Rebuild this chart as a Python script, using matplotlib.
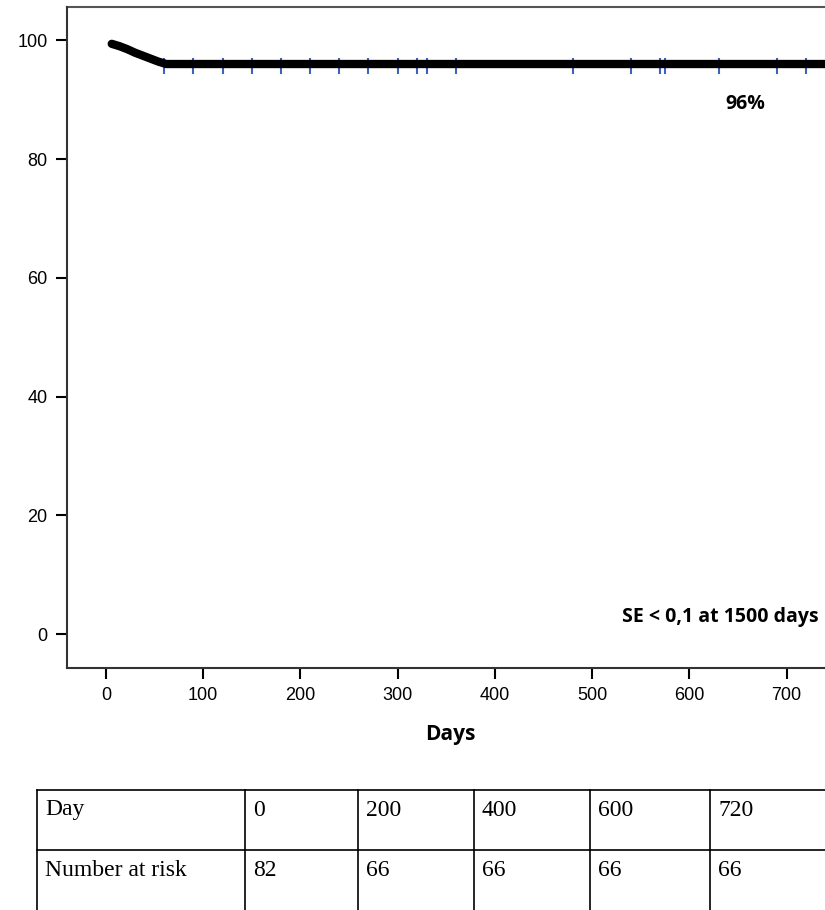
import matplotlib.pyplot as plt

# survival curve (step points) and censor marks
days = [0, 6, 14, 22, 30, 38, 46, 54, 62, 740]
surv = [99.5, 99.4, 99.0, 98.5, 97.9, 97.4, 96.9, 96.4, 96.0, 96.0]
censor_days = [60, 90, 120, 150, 180, 210, 240, 270, 300, 320, 330, 360,
               480, 540, 570, 575, 630, 690, 720]

table_rows = [["Day", "0", "200", "400", "600", "720"],
              ["Number at risk", "82", "66", "66", "66", "66"]]

W, H = 825, 910
fig = plt.figure(figsize=(W / 100, H / 100), dpi=100)
ax = fig.add_axes([67 / W, 1 - 668 / H, 1 - 67 / W + 0.01, (668 - 7) / H])
ax.set_xlim(-40, 748)
ax.set_ylim(-5.7, 105.6)

ax.plot(days[1:], surv[1:], color="black", lw=6, solid_capstyle="round")
ax.plot(censor_days, [95.6] * len(censor_days), ls="none", marker="|",
        ms=11, mew=1.5, color="#3a62c0", zorder=1)

ax.set_xticks(range(0, 701, 100))
ax.set_yticks(range(0, 101, 20))
for s in ["top", "right"]:
    ax.spines[s].set_visible(False)
ax.axhline(105.6, color="#555555", lw=1.5, clip_on=False)
for s in ["left", "bottom"]:
    ax.spines[s].set_linewidth(1.5)
    ax.spines[s].set_color("#333333")
ax.tick_params(length=8, width=1.5, labelsize=13, pad=6)
for lab in ax.get_xticklabels() + ax.get_yticklabels():
    lab.set_family("Liberation Sans")
ax.set_xlabel("Days", fontsize=15, fontweight="bold", family="Open Sans",
              labelpad=14)

ax.text(637, 88.5, "96%", fontsize=14, fontweight="bold", family="Open Sans")
ax.text(733, 2, "SE < 0,1 at 1500 days", fontsize=14, fontweight="bold",
        family="Open Sans", ha="right")

# number at risk table
col_x = [37, 245, 358, 474, 590, 710, 830]
row_y = [790, 850, 910]
for x in col_x:
    fig.add_artist(plt.Line2D([x / W] * 2, [1 - row_y[0] / H, 0],
                              color="black", lw=1.2))
for y in row_y[:2]:
    fig.add_artist(plt.Line2D([col_x[0] / W, 1], [1 - y / H] * 2,
                              color="black", lw=1.2))
for r, row in enumerate(table_rows):
    for c, txt in enumerate(row):
        fig.text((col_x[c] + 8) / W, 1 - (row_y[r] + 20) / H, txt,
                 fontsize=17, family="Liberation Serif", va="center")

fig.savefig("out.png", dpi=100)
